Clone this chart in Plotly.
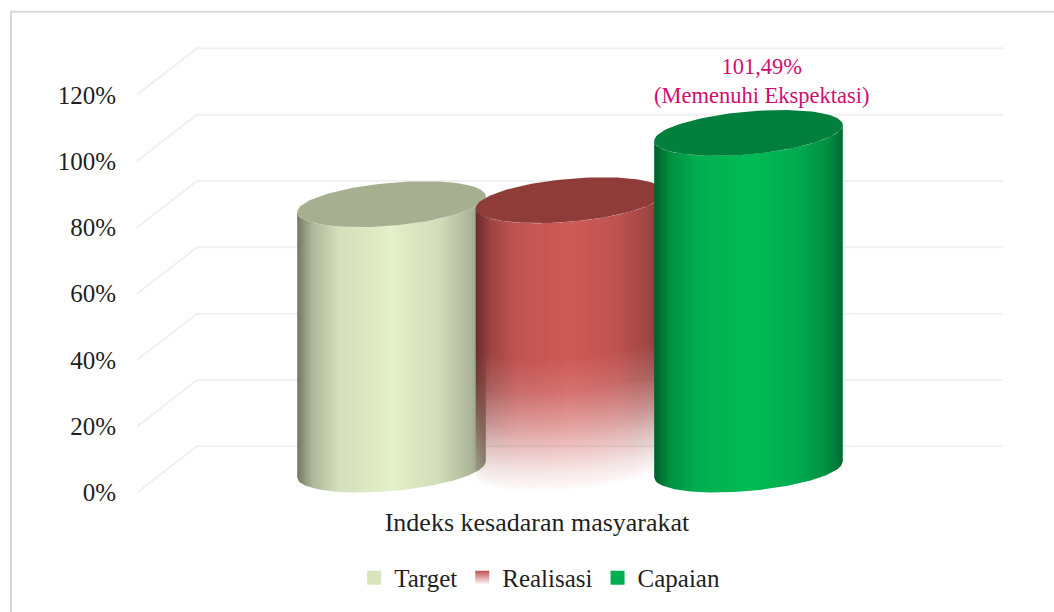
import numpy as np
import plotly.graph_objects as go

# ---- data ----
series_names = ["Target", "Realisasi", "Capaian"]
series_values = [80.0, 81.2, 101.49]
category = "Indeks kesadaran masyarakat"
y_ticks = [0, 20, 40, 60, 80, 100, 120]
y_tick_labels = ["0%", "20%", "40%", "60%", "80%", "100%", "120%"]
data_label = "101,49%<br>(Memenuhi Ekspektasi)"

# ---- styles ----
base_colors = [(228, 240, 201), (207, 90, 87), (0, 187, 85)]
top_colors = ["#A6AF90", "#8F3C38", "#027F3C"]
legend_colors = ["#D8E4BC", "#C0504D", "#00B050"]
shade_pos = [0, .08, .22, .5, .75, .92, 1]
shade_val = [.5, .76, .93, 1, .92, .76, .58]
FONT = "Liberation Serif"

# ---- geometry (plot area; x axis is in pixels of the plot width) ----
W, H = 1054, 612
L, R = 137, 1003
ZERO_PX = 493
PX_PER_UNIT = (492 - 94) / 120
Y_MIN, Y_MAX = -4.0, 135.0
TOP_M = ZERO_PX - Y_MAX * PX_PER_UNIT
BOT_M = H - (ZERO_PX - Y_MIN * PX_PER_UNIT)
DEPTH_X, DEPTH_Y = 60, 14.0
BAND_W = 806
STEP = 178.5
A = 94.3
B = 21.5 / PX_PER_UNIT
S = 8 / PX_PER_UNIT


def rgb(c, f=1.0, a=None):
    r, g, b = [int(round(v * f)) for v in c]
    return f"rgb({r},{g},{b})" if a is None else f"rgba({r},{g},{b},{a})"


def cx_of(i):
    return BAND_W / 2 + DEPTH_X / 2 + (i - 1) * STEP


def front_arc(cx, base, xs):
    c = np.clip((np.asarray(xs, float) - cx) / A, -1, 1)
    return base + DEPTH_Y / 2 + S * c - B * np.sqrt(1 - c * c)


def ellipse(cx, base):
    t = np.linspace(0, 2 * np.pi, 121)
    return cx + A * np.cos(t), base + DEPTH_Y / 2 + S * np.cos(t) + B * np.sin(t)


fig = go.Figure()

# gridlines: side wall + back wall
for v in y_ticks:
    fig.add_trace(go.Scatter(x=[0, DEPTH_X, R - L], y=[v, v + DEPTH_Y, v + DEPTH_Y], mode="lines",
                             line=dict(color="#F0F0F0", width=2), hoverinfo="skip", showlegend=False))

SOLID = go.scatter.Line(width=0)

for i, (name, v) in enumerate(zip(series_names, series_values)):
    cx = cx_of(i)
    if name == "Realisasi":
        # body made of pixel aligned strips so it can fade in two directions
        x0 = int(np.floor(cx - A))
        x1 = int(np.ceil(cx + A))
        for xa in range(x0, x1, 2):
            xb = min(xa + 2, x1)
            xm = np.clip(np.array([xa, xb], float), cx - A, cx + A)
            u = (xa + 1 - (cx - A)) / (2 * A)
            f = float(np.interp(u, shade_pos, shade_val))
            yb = front_arc(cx, 0, xm)
            yt = front_arc(cx, v, xm)
            mid_bot = float(yb.mean())
            stops = [(0, 1), (.25, .85), (.5, .58), (.67, .36), (.85, .15), (.95, .06), (1, 0)]
            fig.add_trace(go.Scatter(
                x=[xm[0], xm[1], xm[1], xm[0]], y=[yb[0], yb[1], yt[1], yt[0]],
                mode="lines", line=SOLID, fill="toself",
                fillgradient=dict(type="vertical", start=mid_bot + 40, stop=mid_bot,
                                  colorscale=[[p, rgb(base_colors[i], f, a)] for p, a in stops]),
                hoverinfo="skip", showlegend=False))
    else:
        xs = np.linspace(cx - A, cx + A, 121)
        fig.add_trace(go.Scatter(
            x=np.r_[xs, xs[::-1]], y=np.r_[front_arc(cx, 0, xs), front_arc(cx, v, xs)[::-1]],
            mode="lines", line=SOLID, fill="toself",
            fillgradient=dict(type="horizontal", start=cx - A, stop=cx + A,
                              colorscale=[[p, rgb(base_colors[i], s)] for p, s in zip(shade_pos, shade_val)]),
            hoverinfo="skip", showlegend=False))
    ex, ey = ellipse(cx, v)
    fig.add_trace(go.Scatter(x=ex, y=ey, mode="lines", line=SOLID, fill="toself", fillcolor=top_colors[i],
                             hoverinfo="skip", showlegend=False))

# legend entries
for i, name in enumerate(series_names):
    marker = dict(symbol="square", size=14, color=legend_colors[i], line=dict(width=0))
    if name == "Realisasi":
        marker["gradient"] = dict(type="vertical", color="#FFFFFF")
    fig.add_trace(go.Scatter(x=[None], y=[None], mode="markers", name=name, marker=marker,
                             hoverinfo="skip", showlegend=True))

fig.add_annotation(x=cx_of(2) + 13, y=series_values[2] + 22.8, text=data_label, showarrow=False,
                   font=dict(family=FONT, size=22.5, color="#CF0F70"), align="center", xref="x", yref="y")

fig.add_shape(type="rect", xref="paper", yref="paper", layer="below",
              x0=(11 - L) / (R - L), x1=(1100 - L) / (R - L),
              y0=-0.5, y1=1 + (TOP_M - 12) / (H - TOP_M - BOT_M),
              line=dict(color="#D9D9D9", width=2), fillcolor="rgba(0,0,0,0)")

fig.update_layout(
    width=W, height=H, autosize=False, paper_bgcolor="white", plot_bgcolor="rgba(0,0,0,0)",
    margin=dict(l=L, r=W - R, t=TOP_M, b=BOT_M, autoexpand=False),
    font=dict(family=FONT, size=25, color="#1F1F1F"),
    hovermode=False,
    xaxis=dict(range=[0, R - L], tickmode="array", tickvals=[BAND_W / 2 - 3], ticktext=[category],
               showgrid=False, zeroline=False, showline=False, ticks="", ticklabelstandoff=-2,
               tickfont=dict(family=FONT, size=26, color="#1F1F1F")),
    yaxis=dict(range=[Y_MIN, Y_MAX], tickmode="array", tickvals=y_ticks, ticktext=y_tick_labels,
               showgrid=False, zeroline=False, showline=False, ticks="", ticklabelstandoff=20,
               tickfont=dict(family=FONT, size=25, color="#1F1F1F")),
    legend=dict(orientation="h", xref="container", yref="container", x=0.512, xanchor="center",
                y=0.018, yanchor="bottom", font=dict(family=FONT, size=25, color="#1F1F1F"),
                itemclick=False, itemdoubleclick=False, bgcolor="rgba(0,0,0,0)"),
)

fig.write_html("out.html", config=dict(displayModeBar=False),
               post_script="document.body.style.margin='0';document.body.style.overflow='hidden';")
